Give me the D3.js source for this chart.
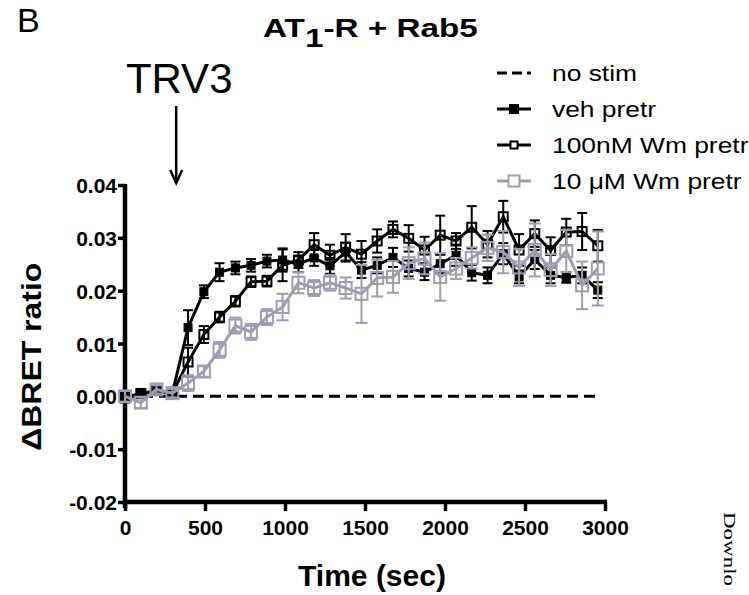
<!DOCTYPE html>
<html>
<head>
<meta charset="utf-8">
<script src="https://cdn.jsdelivr.net/npm/d3@7"></script>
<style>
  body { margin: 0; background: #fff; }
  svg { display: block; font-family: Arial, "Liberation Sans", sans-serif; }
</style>
</head>
<body>
<svg id="chart" width="749" height="595"></svg>
<script>
// sampling times (sec)
const times = [0, 99, 197, 296, 394, 493, 591, 690, 788, 887, 985, 1084, 1182, 1281, 1379, 1478,
  1576, 1675, 1773, 1872, 1970, 2069, 2167, 2266, 2364, 2463, 2561, 2660, 2758, 2857, 2955];

const noStim = [0, 0, 0, 0, 0, 0, 0, 0, 0, 0, 0, 0, 0, 0, 0, 0, 0, 0, 0, 0, 0, 0, 0, 0, 0, 0, 0, 0, 0, 0, 0];

const veh = [-0.0004, 0.0006, 0.0009, 0.0006, 0.0130, 0.0198, 0.0235, 0.0243, 0.0248, 0.0256, 0.0258,
  0.0250, 0.0262, 0.0247, 0.0273, 0.0239, 0.0248, 0.0263, 0.0242, 0.0235, 0.0251, 0.0267, 0.0234,
  0.0229, 0.0270, 0.0226, 0.0259, 0.0229, 0.0225, 0.0229, 0.0201];
const vehErr = [0.0008, 0.0008, 0.0006, 0.0006, 0.0033, 0.0012, 0.0017, 0.0012, 0.0012, 0.0012, 0.0022,
  0.0015, 0.0015, 0.0015, 0.0018, 0.0015, 0.0015, 0.0018, 0.0015, 0.0015, 0.0018, 0.0020, 0.0015,
  0.0015, 0.0020, 0.0012, 0.0018, 0.0015, 0.0010, 0.0015, 0.0015];

const wm100 = [-0.0001, 0.0005, 0.0011, 0.0006, 0.0065, 0.0117, 0.0150, 0.0180, 0.0217, 0.0218, 0.0248,
  0.0258, 0.0287, 0.0267, 0.0282, 0.0269, 0.0294, 0.0316, 0.0299, 0.0277, 0.0305, 0.0294, 0.0320,
  0.0288, 0.0340, 0.0277, 0.0308, 0.0276, 0.0311, 0.0312, 0.0285];
const wm100Err = [0.0008, 0.0008, 0.0006, 0.0006, 0.0027, 0.0016, 0.0010, 0.0010, 0.0010, 0.0010, 0.0030,
  0.0015, 0.0022, 0.0020, 0.0025, 0.0025, 0.0022, 0.0015, 0.0025, 0.0025, 0.0037, 0.0015, 0.0040,
  0.0025, 0.0030, 0.0030, 0.0025, 0.0025, 0.0025, 0.0035, 0.0030];

const wm10 = [0.0000, -0.0012, 0.0013, 0.0006, 0.0025, 0.0047, 0.0088, 0.0134, 0.0122, 0.0150, 0.0169,
  0.0215, 0.0205, 0.0215, 0.0205, 0.0194, 0.0224, 0.0226, 0.0252, 0.0261, 0.0226, 0.0242, 0.0262,
  0.0281, 0.0273, 0.0244, 0.0277, 0.0239, 0.0275, 0.0210, 0.0242];
const wm10Err = [0.0010, 0.0010, 0.0008, 0.0008, 0.0015, 0.0010, 0.0015, 0.0015, 0.0015, 0.0015, 0.0025,
  0.0020, 0.0015, 0.0015, 0.0020, 0.0055, 0.0035, 0.0030, 0.0030, 0.0030, 0.0045, 0.0020, 0.0020,
  0.0025, 0.0040, 0.0035, 0.0050, 0.0030, 0.0040, 0.0045, 0.0070];

const xTicks = [0, 500, 1000, 1500, 2000, 2500, 3000];
const yTicks = [-0.02, -0.01, 0.00, 0.01, 0.02, 0.03, 0.04];
const stimTime = 320;
const legendLabels = ["no stim", "veh pretr", "100nM Wm pretr", "10 \u03BCM Wm pretr"];

const grey = "#9d9db2";

const svg = d3.select("#chart");

const x = d3.scaleLinear().domain([0, 3000]).range([125, 605]);
const y = d3.scaleLinear().domain([-0.02, 0.04]).range([502, 185]);

// axes
const yAxis = svg.append("g")
    .attr("transform", `translate(${x(0)},0)`)
    .call(d3.axisLeft(y).tickValues(yTicks).tickSize(7).tickSizeOuter(0)
        .tickFormat(d => d3.format(".2f")(d).replace("\u2212", "-")));
const xAxis = svg.append("g")
    .attr("transform", `translate(0,${y(-0.02)})`)
    .call(d3.axisBottom(x).tickValues(xTicks).tickSize(9).tickSizeOuter(0).tickFormat(d3.format("d")));

[yAxis, xAxis].forEach(g => {
  g.select(".domain").attr("stroke", "#000").attr("stroke-width", 4.5);
  g.selectAll(".tick line").attr("stroke", "#000").attr("stroke-width", 3.5);
  g.selectAll(".tick text")
    .attr("fill", "#000")
    .style("font-size", "21px")
    .style("font-weight", "bold");
});
yAxis.select(".domain").attr("d", `M0,${y(0.04) - 1}V${y(-0.02) + 6}`);
xAxis.select(".domain").attr("d", `M${x(0) - 2},0H${x(3000) + 2}`);
yAxis.selectAll(".tick text").attr("x", -8).attr("dy", "0.36em");
xAxis.selectAll(".tick text").attr("y", 18);

// no stim dashed line
svg.append("path")
    .datum(times.map((t, i) => [t, noStim[i]]))
    .attr("fill", "none")
    .attr("stroke", "#000")
    .attr("stroke-width", 3)
    .attr("stroke-dasharray", "11,6")
    .attr("d", d3.line().x(d => x(d[0])).y(d => y(d[1])));

function drawSeries(vals, errs, opts) {
  const g = svg.append("g");
  const pts = times.map((t, i) => ({ t: t, v: vals[i], e: errs[i] }));
  // error bars
  pts.forEach(p => {
    const cx = x(p.t);
    g.append("line")
        .attr("x1", cx).attr("x2", cx)
        .attr("y1", y(p.v - p.e)).attr("y2", y(p.v + p.e))
        .attr("stroke", opts.color).attr("stroke-width", 2);
    [p.v - p.e, p.v + p.e].forEach(v => {
      g.append("line")
          .attr("x1", cx - opts.cap).attr("x2", cx + opts.cap)
          .attr("y1", y(v)).attr("y2", y(v))
          .attr("stroke", opts.color).attr("stroke-width", 2);
    });
  });
  g.append("path")
      .datum(pts)
      .attr("fill", "none")
      .attr("stroke", opts.color)
      .attr("stroke-width", 3)
      .attr("d", d3.line().x(d => x(d.t)).y(d => y(d.v)));
  g.selectAll("rect.mk")
    .data(pts)
    .join("rect")
      .attr("class", "mk")
      .attr("x", d => x(d.t) - opts.size / 2)
      .attr("y", d => y(d.v) - opts.size / 2)
      .attr("width", opts.size)
      .attr("height", opts.size)
      .attr("fill", opts.filled ? opts.color : "none")
      .attr("stroke", opts.color)
      .attr("stroke-width", opts.filled ? 1 : 2);
}

drawSeries(veh, vehErr, { color: "#000", size: 8, filled: true, cap: 5 });
drawSeries(wm100, wm100Err, { color: "#000", size: 9, filled: false, cap: 5 });
drawSeries(wm10, wm10Err, { color: grey, size: 12, filled: false, cap: 6 });

// legend
const legY = [73, 109, 145, 181];
const leg = svg.append("g");
legendLabels.forEach((lab, i) => {
  const yy = legY[i];
  if (i == 0) {
    leg.append("line").attr("x1", 497).attr("x2", 531).attr("y1", yy).attr("y2", yy)
      .attr("stroke", "#000").attr("stroke-width", 3).attr("stroke-dasharray", "10,5");
  } else {
    const col = i == 3 ? grey : "#000";
    leg.append("line").attr("x1", 497).attr("x2", 531).attr("y1", yy).attr("y2", yy)
      .attr("stroke", col).attr("stroke-width", 3);
    const s = i == 1 ? 8 : (i == 2 ? 7 : 11);
    leg.append("rect")
      .attr("x", 514 - s / 2).attr("y", yy - s / 2).attr("width", s).attr("height", s)
      .attr("fill", i == 1 ? "#000" : "#fff")
      .attr("stroke", col).attr("stroke-width", 2);
  }
  leg.append("text")
    .attr("transform", `translate(552,${yy + 8}) scale(1.2,1)`)
    .style("font-size", "22px")
    .attr("fill", "#000")
    .text(lab);
});

// title
const title = svg.append("text")
    .attr("transform", "translate(263,37) scale(1.28,1)")
    .style("font-size", "26px")
    .style("font-weight", "bold");
title.append("tspan").text("AT");
title.append("tspan").attr("dy", 10).text("1");
title.append("tspan").attr("dy", -10).text("-R + Rab5");

// panel letter
svg.append("text")
    .attr("x", 17).attr("y", 32)
    .style("font-size", "34px")
    .text("B");

// stimulus annotation
svg.append("text")
    .attr("x", x(stimTime) + 3).attr("y", 93)
    .attr("text-anchor", "middle")
    .style("font-size", "42px")
    .text("TRV3");
svg.append("line")
    .attr("x1", x(stimTime)).attr("x2", x(stimTime))
    .attr("y1", 106).attr("y2", 182)
    .attr("stroke", "#000").attr("stroke-width", 2.5);
svg.append("path")
    .attr("d", `M${x(stimTime) - 6},170L${x(stimTime)},183L${x(stimTime) + 6},170`)
    .attr("fill", "none").attr("stroke", "#000").attr("stroke-width", 2.5);

// axis titles
svg.append("text")
    .attr("transform", `translate(41,${y(0.0075)}) rotate(-90)`)
    .attr("text-anchor", "middle")
    .attr("textLength", 188)
    .attr("lengthAdjust", "spacingAndGlyphs")
    .style("font-size", "28px")
    .style("font-weight", "bold")
    .text("\u0394BRET ratio");

svg.append("text")
    .attr("x", 372).attr("y", 586)
    .attr("text-anchor", "middle")
    .style("font-size", "30px")
    .style("font-weight", "bold")
    .text("Time (sec)");

// page margin text
svg.append("text")
    .attr("transform", "translate(724,512) rotate(90)")
    .attr("textLength", 74)
    .attr("lengthAdjust", "spacingAndGlyphs")
    .style("font-family", "'Liberation Serif', 'DejaVu Serif', serif")
    .style("font-size", "17px")
    .text("Downlo");
</script>
</body>
</html>
